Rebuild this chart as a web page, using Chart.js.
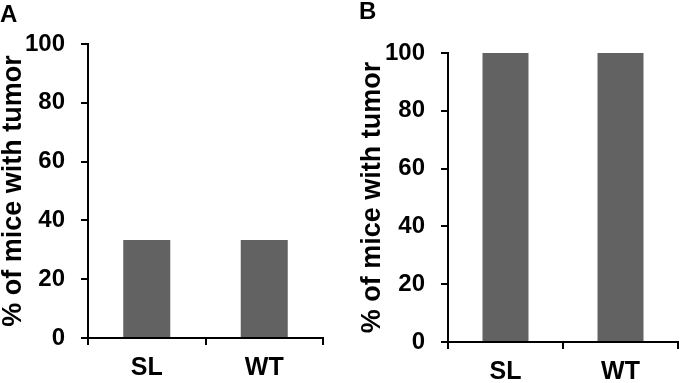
<!DOCTYPE html>
<html>
<head>
<meta charset="utf-8">
<script src="https://cdn.jsdelivr.net/npm/chart.js@4/dist/chart.umd.min.js"></script>
<style>
  html, body { margin: 0; padding: 0; background: #fff; }
  #wrap { position: relative; width: 680px; height: 383px; overflow: hidden; }
  canvas { position: absolute; top: 0; }
  #cA { left: 0; }
  #cB { left: 340px; }
</style>
</head>
<body>
<div id="wrap">
  <canvas id="cA" width="340" height="383"></canvas>
  <canvas id="cB" width="340" height="383"></canvas>
</div>
<script>
const categories = ['SL', 'WT'];
const panelAValues = [33.3, 33.3];
const panelBValues = [100, 100];
const yTickValues = [0, 20, 40, 60, 80, 100];
const yAxisTitle = '% of mice with tumor';
const panelLetters = ['A', 'B'];

const FONT = "'Liberation Sans', Arial, Helvetica, sans-serif";

function makeChart(canvasId, letter, values, geo) {
  return new Chart(document.getElementById(canvasId), {
    type: 'bar',
    data: {
      labels: categories,
      datasets: [{
        data: values,
        backgroundColor: '#626262',
        borderWidth: 0,
        barPercentage: 0.4,
        categoryPercentage: 1.0
      }]
    },
    options: {
      responsive: false,
      animation: false,
      layout: { padding: { left: geo.padLeft, right: geo.padRight, top: 0, bottom: 0 } },
      plugins: {
        legend: { display: false },
        tooltip: { enabled: false },
        title: {
          display: true,
          text: letter,
          align: 'start',
          color: '#000',
          font: { family: FONT, size: 24, weight: 'bold', lineHeight: 1 },
          padding: { top: geo.titleTop, bottom: geo.titleBottom }
        }
      },
      scales: {
        x: {
          type: 'category',
          grid: {
            display: true,
            offset: true,
            drawOnChartArea: false,
            drawTicks: true,
            tickLength: 7,
            color: '#000',
            lineWidth: 2
          },
          border: { display: true, color: '#000', width: 2 },
          ticks: {
            color: '#000',
            font: { family: FONT, size: 25, weight: 'bold' },
            padding: 8
          },
          afterFit: (s) => { s.height = geo.xHeight; }
        },
        y: {
          min: 0,
          max: 100,
          afterBuildTicks: (s) => { s.ticks = yTickValues.map(v => ({ value: v })); },
          grid: {
            display: true,
            drawOnChartArea: false,
            drawTicks: true,
            tickLength: 7,
            color: '#000',
            lineWidth: 2
          },
          border: { display: true, color: '#000', width: 2 },
          ticks: {
            color: '#000',
            font: { family: FONT, size: 24, weight: 'bold' },
            padding: 16
          },
          title: {
            display: true,
            text: yAxisTitle,
            color: '#000',
            font: { family: FONT, size: 27, weight: 'bold', lineHeight: 1 },
            padding: 0
          },
          afterFit: (s) => { s.width = geo.yWidth; }
        }
      }
    }
  });
}

makeChart('cA', panelLetters[0], panelAValues, {
  padLeft: 0, padRight: 17, titleTop: 3, titleBottom: 17, xHeight: 45, yWidth: 88
});
makeChart('cB', panelLetters[1], panelBValues, {
  padLeft: 19, padRight: 2, titleTop: 0, titleBottom: 29, xHeight: 41, yWidth: 89
});
</script>
</body>
</html>
